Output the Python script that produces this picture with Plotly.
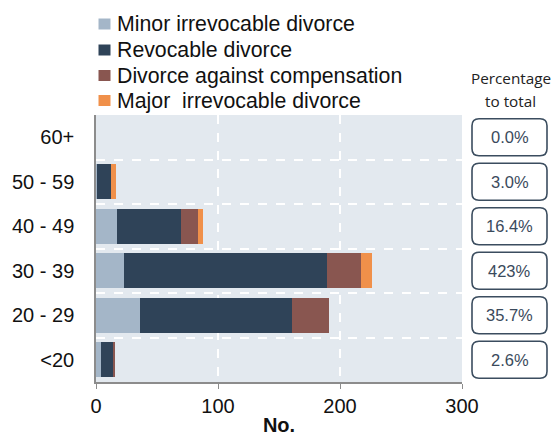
import plotly.graph_objects as go

categories = ["<20", "20 - 29", "30 - 39", "40 - 49", "50 - 59", "60+"]
minor_irrevocable = [4, 36, 23, 17, 1, 0]
revocable = [10, 125, 166, 53, 11, 0]
compensation = [1, 30, 28, 14, 0, 0]
major_irrevocable = [0, 0, 9, 3.5, 4, 0]
percent_labels = ["2.6%", "35.7%", "423%", "16.4%", "3.0%", "0.0%"]

series_names = ["Minor irrevocable divorce", "Revocable divorce",
                "Divorce against compensation", "Major  irrevocable divorce"]
series_values = [minor_irrevocable, revocable, compensation, major_irrevocable]
series_colors = ["#a4b6c8", "#2f4358", "#895650", "#f0904a"]

W, H = 553, 436
ML, MR, MT, MB = 96, 91, 115, 54
PW, PH = W - ML - MR, H - MT - MB


def px_x(p):
    return (p - ML) / PW


def px_y(p):
    return (H - MB - p) / PH


fig = go.Figure()
for name, vals, col in zip(series_names, series_values, series_colors):
    fig.add_trace(go.Bar(y=categories, x=vals, name=name, orientation="h",
                         marker=dict(color=col, line=dict(width=0)), width=0.78,
                         showlegend=False))

shapes = []
annotations = []

# legend (drawn as squares + labels)
legend_y = [24, 50, 75.5, 100.5]
for name, col, ly in zip(series_names, series_colors, legend_y):
    shapes.append(dict(type="rect", xref="paper", yref="paper", xsizemode="pixel",
                       ysizemode="pixel", xanchor=px_x(104.5), yanchor=px_y(ly),
                       x0=-6, x1=6, y0=-5.5, y1=5.5, fillcolor=col, line=dict(width=0)))
    annotations.append(dict(xref="paper", yref="paper", x=px_x(115), y=px_y(ly),
                            text=name, showarrow=False, xanchor="left", yanchor="middle",
                            font=dict(family="Liberation Sans", size=21.3, color="#111")))

# percentage boxes
box_x = px_x(509.5)
r = 7
w, h = 37.5, 18.5
path = (f"M {-w + r},{-h} L {w - r},{-h} Q {w},{-h} {w},{-h + r} "
        f"L {w},{h - r} Q {w},{h} {w - r},{h} L {-w + r},{h} "
        f"Q {-w},{h} {-w},{h - r} L {-w},{-h + r} Q {-w},{-h} {-w + r},{-h} Z")
for cat, lab in zip(categories, percent_labels):
    shapes.append(dict(type="path", xref="paper", yref="y", xsizemode="pixel",
                       ysizemode="pixel", xanchor=box_x, yanchor=cat, path=path,
                       line=dict(color="#3b4d5f", width=1.6), fillcolor="white"))
    annotations.append(dict(xref="paper", yref="y", x=box_x, y=cat, text=lab,
                            showarrow=False, xanchor="center", yanchor="middle",
                            font=dict(family="Liberation Sans", size=16.5, color="#3a4a5c")))
for txt, ty in (("Percentage", 78), ("to total", 101)):
    annotations.append(dict(xref="paper", yref="paper", x=px_x(510.5), y=px_y(ty),
                            text=txt, showarrow=False, xanchor="center", yanchor="middle",
                            font=dict(family="Open Sans", size=15.3, color="#222")))

fig.update_layout(
    width=W, height=H,
    margin=dict(l=ML, r=MR, t=MT, b=MB, autoexpand=False),
    barmode="stack",
    plot_bgcolor="#e3e9ef",
    paper_bgcolor="white",
    font=dict(family="Liberation Sans", size=20, color="#111"),
    showlegend=False,
    shapes=shapes,
    annotations=annotations,
    xaxis=dict(range=[0, 300], tickvals=[0, 100, 200, 300], showgrid=True,
               gridcolor="white", griddash="dash", gridwidth=1.5,
               showline=True, linecolor="#8c8c8c", linewidth=1.5,
               ticks="outside", ticklen=5, tickcolor="#8c8c8c",
               zeroline=False, automargin=False,
               title=dict(text="<b>No.</b>", standoff=7,
                          font=dict(family="Liberation Sans", size=20))),
    yaxis=dict(type="category", categoryorder="array", categoryarray=categories,
               tickson="boundaries", showgrid=True, gridcolor="white",
               griddash="dash", gridwidth=1.5, showline=True,
               linecolor="#8c8c8c", linewidth=1.5, ticks="",
               ticklabelstandoff=16, range=[-0.5, 5.5], automargin=False),
)

fig.write_html("out.html", config={"displayModeBar": False},
               post_script="document.body.style.margin='0';")
